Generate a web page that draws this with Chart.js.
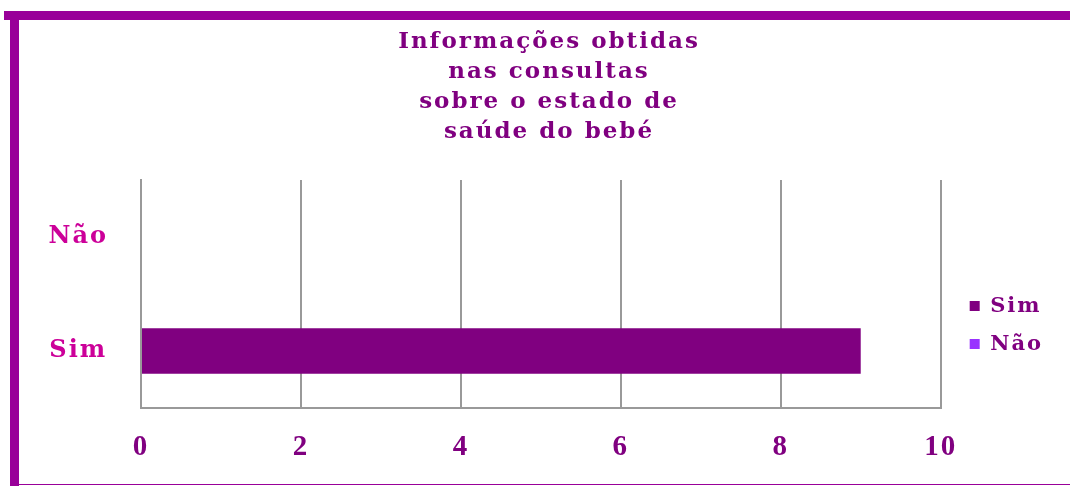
<!DOCTYPE html>
<html lang="pt">
<head>
    <meta charset="UTF-8">
    <title>Informações obtidas nas consultas</title>
    <script src="https://cdn.jsdelivr.net/npm/chart.js@4.4.0/dist/chart.umd.min.js"></script>
    <style>
        body { margin: 0; background: #fff; }
        .wrap { position: relative; width: 1070px; height: 486px; overflow: hidden; }
        #myChart { position: absolute; left: 0; top: 0; }
        .frame { position: absolute; background: #990099; }
        .top { left: 4px; top: 11px; width: 1066px; height: 9px; }
        .left { left: 10px; top: 20px; width: 9px; height: 466px; }
        .bottom { left: 10px; top: 484px; width: 1060px; height: 1px; }
    </style>
</head>
<body>
    <div class="wrap">
        <canvas id="myChart" width="1070" height="486"></canvas>
        <div class="frame top"></div>
        <div class="frame left"></div>
        <div class="frame bottom"></div>
    </div>

    <script>
        // categories run bottom -> top (y axis is reversed)
        var categories = ['Sim', 'Não'];
        var simValues = [9, 0];
        var naoValues = [0, 0];
        var xTicks = [0, 2, 4, 6, 8, 10];
        var titleLines = ['Informações obtidas', 'nas consultas', 'sobre o estado de', 'saúde do bebé'];

        var purple = '#800080';
        var gridGrey = '#999999';

        // the original text is drawn a little spaced out
        var spacing = {
            id: 'spacing',
            beforeUpdate: function (chart) { chart.ctx.letterSpacing = '2px'; },
            beforeDraw: function (chart) { chart.ctx.letterSpacing = '2px'; }
        };

        var ctx = document.getElementById('myChart').getContext('2d');
        var myChart = new Chart(ctx, {
            type: 'bar',
            data: {
                labels: categories,
                datasets: [
                    { label: 'Sim', data: simValues, backgroundColor: purple },
                    { label: 'Não', data: naoValues, backgroundColor: '#9933ff' }
                ]
            },
            options: {
                indexAxis: 'y',
                responsive: false,
                animation: false,
                categoryPercentage: 0.4,
                barPercentage: 1,
                layout: { padding: { left: 45, right: 17, top: 0, bottom: 0 } },
                plugins: {
                    tooltip: { enabled: false },
                    title: {
                        display: true,
                        text: titleLines,
                        color: purple,
                        font: { family: 'DejaVu Serif', weight: 'bold', size: 23, lineHeight: '30px' },
                        padding: { top: 27, bottom: 33 }
                    },
                    legend: {
                        position: 'right',
                        fullSize: false,
                        align: 'center',
                        title: {
                            display: true,
                            text: '',
                            font: { size: 1 },
                            padding: { top: 61, bottom: 0 }
                        },
                        labels: {
                            boxWidth: 10,
                            boxHeight: 10,
                            padding: 17,
                            color: purple,
                            font: { family: 'DejaVu Serif', weight: 'bold', size: 21 }
                        }
                    }
                },
                scales: {
                    x: {
                        stacked: true,
                        min: 0,
                        max: 10,
                        afterBuildTicks: function (scale) {
                            scale.ticks = xTicks.map(function (v) { return { value: v }; });
                        },
                        afterFit: function (scale) { scale.height = 78; },
                        grid: { color: gridGrey, lineWidth: 2, drawTicks: false },
                        border: { display: true, color: gridGrey, width: 2 },
                        ticks: {
                            padding: 22,
                            color: purple,
                            font: { family: 'Liberation Serif', weight: 'bold', size: 29 }
                        }
                    },
                    y: {
                        stacked: true,
                        reverse: true,
                        afterFit: function (scale) { scale.width = 96; },
                        grid: { display: false, drawTicks: false },
                        border: { display: true, color: gridGrey, width: 2 },
                        ticks: {
                            padding: 33,
                            crossAlign: 'center',
                            color: '#cc0099',
                            font: { family: 'DejaVu Serif', weight: 'bold', size: 24 }
                        }
                    },
                    // empty axis, only keeps the legend off the plot
                    y2: {
                        position: 'right',
                        display: true,
                        afterFit: function (scale) { scale.width = 12; },
                        grid: { display: false, drawTicks: false },
                        border: { display: false },
                        ticks: { display: false }
                    }
                }
            },
            plugins: [spacing]
        });
    </script>
</body>
</html>
